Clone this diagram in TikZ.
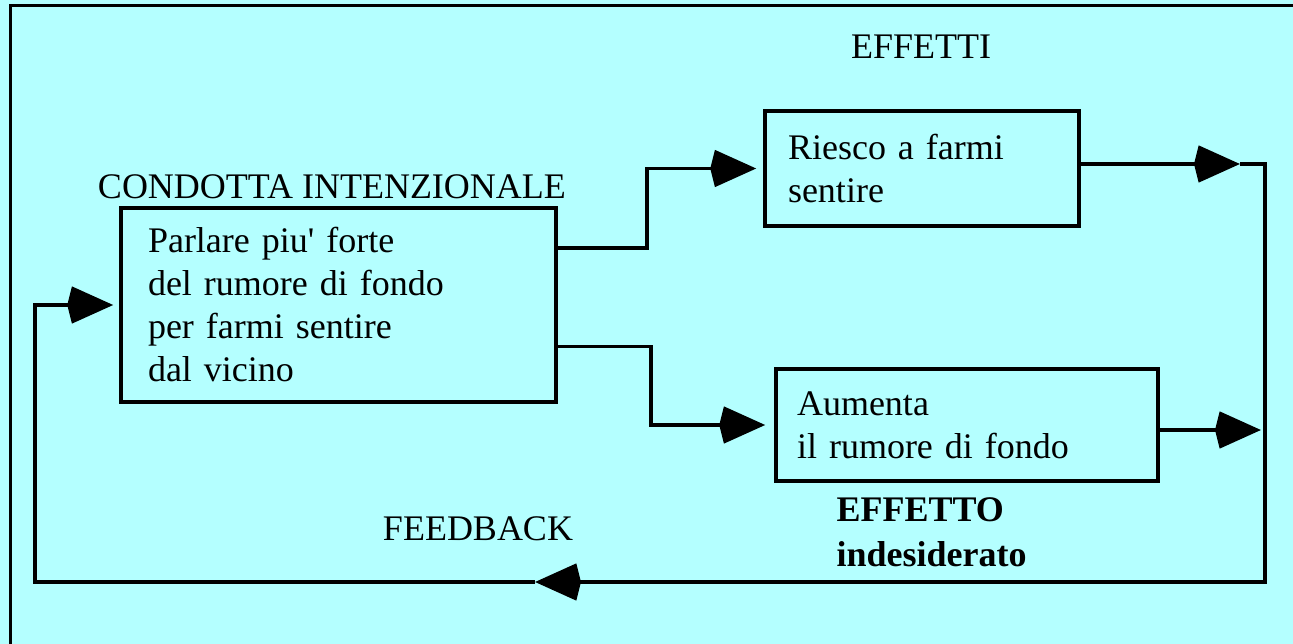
\documentclass[tikz,border=0pt]{standalone}
\usepackage{fontspec}
\setmainfont{Liberation Serif}
\usetikzlibrary{arrows.meta}
\definecolor{bgcyan}{RGB}{180,255,255}
\tikzset{
  txt/.style={font=\fontsize{36}{43}\selectfont},
  box/.style={txt, draw, line width=3.5pt, align=left, inner ysep=0pt},
  wire/.style={line width=3.5pt},
  arr/.style={wire, -{Stealth[length=41pt,width=36pt,inset=-5pt]}}
}
\begin{document}
\begin{tikzpicture}[x=1pt,y=-1pt]
  \useasboundingbox (0,0) rectangle (1293,644);
  \clip (0,0) rectangle (1293,644);
  \fill[bgcyan] (0,0) rectangle (1293,644);
  \draw[line width=3pt] (10.5,5.5) rectangle (1310,660);

  % boxes
  \node[box, minimum width=435pt, minimum height=194pt, text width=381pt, inner xsep=27pt] (cond) at (338.5,305)
    {Parlare piu\textquotesingle\ forte\\del rumore di fondo\\per farmi sentire\\dal vicino};
  \node[box, minimum width=314pt, minimum height=115pt, text width=268pt, inner xsep=23pt] (riesco) at (922,168.5)
    {Riesco a farmi\\sentire};
  \node[box, minimum width=382pt, minimum height=112pt, text width=340pt, inner xsep=21pt] (aumenta) at (967,425)
    {Aumenta\\il rumore di fondo};

  % labels
  \node[txt] (condlbl) at (332,187) {CONDOTTA INTENZIONALE};
  \node[txt] (effetti) at (921,47) {EFFETTI};
  \node[txt] (feedback) at (478,529) {FEEDBACK};
  \node[txt, font=\fontsize{36}{45}\selectfont\bfseries, align=left, anchor=west] (effetto) at (833,532)
    {EFFETTO\\indesiderato};

  % feedback loop
  \coordinate (fbR) at (1265,164);
  \coordinate (fbBR) at (1265,582);
  \coordinate (fbBL) at (35,582);
  \coordinate (tipR) at (1240,164);
  \coordinate (tipF) at (535,582);

  \draw[arr, shorten >=7pt] ([yshift=-42pt]cond.north east) -- ++(89,0) |- (riesco.west);
  \draw[arr, shorten >=9pt] ([yshift=-140pt]cond.north east) -- ++(93,0) |- (aumenta.west);
  \draw[arr] ([yshift=4.5pt]riesco.east) -- (tipR);
  \draw[arr] (tipR) -- (fbR) -- (fbBR) -- (tipF);
  \draw[arr, shorten >=4pt] ([yshift=-5pt]aumenta.east) -- ([yshift=-5pt]aumenta.east -| fbR);
  \draw[arr, shorten >=6pt] (tipF) -- (fbBL) |- (cond.west);
\end{tikzpicture}
\end{document}
